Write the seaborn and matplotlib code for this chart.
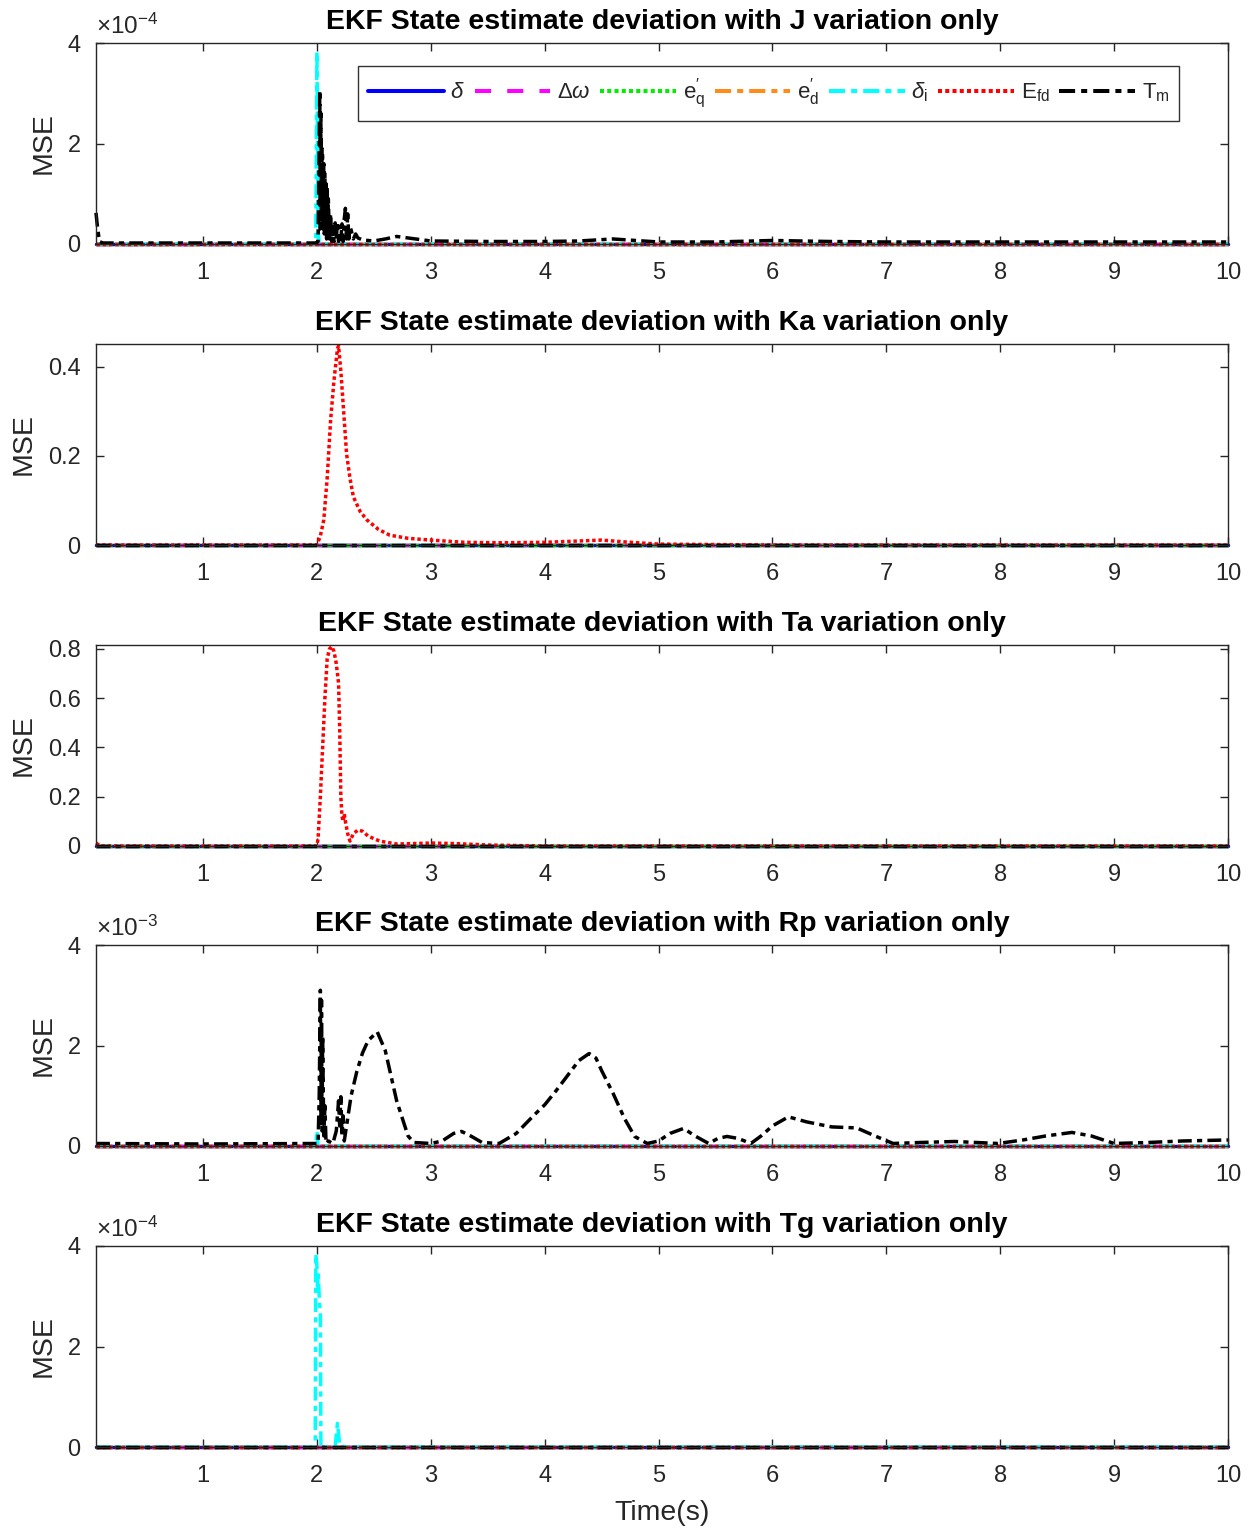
import numpy as np
import pandas as pd
import matplotlib
matplotlib.use("Agg")
import matplotlib.pyplot as plt
import seaborn as sns
from matplotlib.lines import Line2D

sns.set_style("ticks")
plt.rcParams['font.family'] = ['Liberation Sans', 'DejaVu Sans']
plt.rcParams['mathtext.fontset'] = 'custom'
plt.rcParams['mathtext.rm'] = 'Liberation Sans'
plt.rcParams['mathtext.it'] = 'Liberation Sans:italic'

# ---------------- data ----------------
T_START, T_END = 0.06, 10.0
x_ticks = [1, 2, 3, 4, 5, 6, 7, 8, 9, 10]

series_names = [r'$\delta$', r'$\Delta\omega$', r'$\mathrm{e}^{\prime}_{\mathrm{q}}$',
                r'$\mathrm{e}^{\prime}_{\mathrm{d}}$', r'$\delta_{\mathrm{i}}$',
                r'$\mathrm{E}_{\mathrm{fd}}$', r'$\mathrm{T}_{\mathrm{m}}$']
series_keys = ['delta', 'domega', 'eq', 'ed', 'deltai', 'efd', 'tm']

titles = ['EKF State estimate deviation with J variation only',
          'EKF State estimate deviation with Ka variation only',
          'EKF State estimate deviation with Ta variation only',
          'EKF State estimate deviation with Rp variation only',
          'EKF State estimate deviation with Tg variation only']

# Panel 1: J variation (values x1e-4)
deltai_J = [(0.06, 0), (1.99, 0), (2.0, 3.83), (2.01, 0.3), (2.02, 0), (10, 0)]
tm_J = [(0.06, 0.62), (0.07, 0.4), (0.09, 0.05), (0.12, 0.02), (1.99, 0.02),
        (2.01, 0.05), (2.025, 3.06), (2.03, 0.3), (2.035, 2.6), (2.04, 0.4),
        (2.045, 1.9), (2.05, 1.74), (2.055, 0.3), (2.06, 1.6), (2.065, 0.2),
        (2.07, 1.4), (2.075, 0.3), (2.08, 1.2), (2.085, 0.1), (2.09, 1.14),
        (2.095, 0.2), (2.10, 0.9), (2.11, 0.1), (2.12, 0.6), (2.13, 0.05),
        (2.14, 0.34), (2.15, 0.05), (2.16, 0.42), (2.17, 0.1), (2.18, 0.44),
        (2.19, 0.05), (2.20, 0.35), (2.21, 0.1), (2.22, 0.4), (2.23, 0.05),
        (2.24, 0.5), (2.25, 0.71), (2.26, 0.1), (2.27, 0.6), (2.28, 0.1),
        (2.29, 0.35), (2.30, 0.28), (2.32, 0.1), (2.34, 0.2), (2.36, 0.12),
        (2.40, 0.08), (2.50, 0.06), (2.60, 0.1), (2.70, 0.15), (2.80, 0.12),
        (3.0, 0.06), (3.5, 0.05), (4.0, 0.05), (4.3, 0.06), (4.6, 0.1),
        (4.8, 0.07), (5.0, 0.04), (5.5, 0.04), (6.0, 0.07), (6.5, 0.05),
        (7.0, 0.04), (8.0, 0.04), (9.0, 0.04), (10.0, 0.04)]

# Panel 2: Ka variation
efd_Ka = [(0.06, 0), (2.0, 0), (2.03, 0.02), (2.06, 0.056), (2.09, 0.15),
          (2.12, 0.28), (2.15, 0.37), (2.18, 0.44), (2.19, 0.447), (2.21, 0.39),
          (2.24, 0.28), (2.26, 0.205), (2.29, 0.15), (2.32, 0.108), (2.38, 0.075),
          (2.44, 0.056), (2.54, 0.035), (2.64, 0.022), (2.8, 0.015), (3.0, 0.011),
          (3.3, 0.006), (3.6, 0.005), (4.0, 0.006), (4.3, 0.009), (4.5, 0.011),
          (4.7, 0.007), (5.0, 0.002), (6.0, 0), (10, 0)]

# Panel 3: Ta variation
efd_Ta = [(0.06, 0.012), (0.1, 0), (2.0, 0), (2.01, 0.03), (2.03, 0.2),
          (2.05, 0.4), (2.07, 0.6), (2.09, 0.76), (2.11, 0.8), (2.13, 0.81),
          (2.15, 0.79), (2.17, 0.74), (2.19, 0.66), (2.2, 0.47), (2.21, 0.2),
          (2.22, 0.12), (2.23, 0.1), (2.24, 0.13), (2.25, 0.1), (2.27, 0.05),
          (2.29, 0.02), (2.32, 0.05), (2.36, 0.065), (2.4, 0.06), (2.45, 0.04),
          (2.55, 0.02), (2.7, 0.008), (3.0, 0.012), (3.2, 0.01), (3.5, 0.004),
          (4.0, 0.0), (10, 0)]

# Panel 4: Rp variation (values x1e-3)
deltai_Rp = [(0.06, 0), (1.99, 0), (2.0, 0.3), (2.01, 0), (10, 0)]
tm_Rp = [(0.06, 0.05), (1.0, 0.04), (1.99, 0.05), (2.01, 0.05), (2.02, 1.0),
         (2.03, 3.1), (2.035, 0.5), (2.04, 2.9), (2.045, 0.3), (2.05, 2.2),
         (2.06, 0.2), (2.07, 0.8), (2.08, 0.05), (2.1, 0.1), (2.14, 0.05),
         (2.17, 0.3), (2.19, 0.9), (2.2, 0.4), (2.21, 0.98), (2.22, 0.2),
         (2.23, 0.6), (2.24, 0.1), (2.26, 0.4), (2.3, 1.0), (2.35, 1.48),
         (2.4, 1.85), (2.45, 2.1), (2.53, 2.27), (2.6, 1.9), (2.7, 0.9),
         (2.8, 0.2), (2.85, 0.07), (3.0, 0.05), (3.1, 0.1), (3.2, 0.25),
         (3.27, 0.29), (3.35, 0.2), (3.45, 0.07), (3.6, 0.05), (3.75, 0.25),
         (3.9, 0.6), (4.0, 0.82), (4.1, 1.1), (4.2, 1.4), (4.3, 1.7),
         (4.39, 1.84), (4.45, 1.75), (4.5, 1.5), (4.6, 1.05), (4.7, 0.55),
         (4.79, 0.19), (4.9, 0.05), (5.0, 0.1), (5.1, 0.25), (5.22, 0.35),
         (5.32, 0.2), (5.44, 0.05), (5.52, 0.15), (5.6, 0.19), (5.7, 0.15),
         (5.81, 0.05), (5.9, 0.2), (6.0, 0.4), (6.14, 0.58), (6.3, 0.48),
         (6.52, 0.38), (6.74, 0.36), (6.9, 0.2), (7.06, 0.05), (7.3, 0.07),
         (7.6, 0.09), (7.98, 0.05), (8.2, 0.12), (8.4, 0.2), (8.63, 0.27),
         (8.8, 0.2), (9.0, 0.05), (9.3, 0.07), (9.6, 0.1), (10, 0.12)]

# Panel 5: Tg variation (values x1e-4)
deltai_Tg = [(0.06, 0), (1.985, 0), (1.99, 3.84), (2.0, 3.6), (2.005, 3.2),
             (2.01, 3.5), (2.02, 3.0), (2.03, 2.6), (2.035, 0), (2.16, 0),
             (2.18, 0.47), (2.2, 0.05), (2.25, 0), (10, 0)]

panel_ylims = [(0, 4), (0, 0.451), (0, 0.816), (0, 4), (0, 4)]
panel_yticks = [[0, 2, 4], [0, 0.2, 0.4], [0, 0.2, 0.4, 0.6, 0.8], [0, 2, 4], [0, 2, 4]]
panel_ytick_labels = [['0', '2', '4'], ['0', '0.2', '0.4'], ['0', '0.2', '0.4', '0.6', '0.8'],
                      ['0', '2', '4'], ['0', '2', '4']]
panel_offsets = [r'$\times10^{-4}$', None, None, r'$\times10^{-3}$', r'$\times10^{-4}$']
panel_data = [
    {'deltai': deltai_J, 'tm': tm_J},
    {'efd': efd_Ka},
    {'efd': efd_Ta},
    {'deltai': deltai_Rp, 'tm': tm_Rp},
    {'deltai': deltai_Tg},
]

# ---------------- styles ----------------
styles = {
    'delta':  dict(color='#0000ff', linestyle='-'),
    'domega': dict(color='#ff00ff', linestyle=(0, (4, 4))),
    'eq':     dict(color='#00ee00', linestyle=(0, (1, 0.8))),
    'ed':     dict(color='#ff8c1a', linestyle=(0, (4, 1.5, 1.5, 1.5))),
    'deltai': dict(color='#00ffff', linestyle=(0, (4, 1.5, 1.5, 1.5))),
    'efd':    dict(color='#ff0000', linestyle=(0, (1, 0.8))),
    'tm':     dict(color='#000000', linestyle=(0, (4, 1.5, 1.5, 1.5))),
}
axis_col = '#262626'
LW = 2.5

fig = plt.figure(figsize=(12.56, 15.28), dpi=100)
W = 1256.0
H = 1528.0
ax_left = 96 / W
ax_w = (1228 - 96) / W
ax_h = 201 / H
bottoms_px = [244, 545, 846, 1146, 1447]

axes = []
for i in range(5):
    ax = fig.add_axes([ax_left, 1 - bottoms_px[i] / H, ax_w, ax_h])
    axes.append(ax)
    for key in series_keys:
        pts = panel_data[i].get(key, [(T_START, 0.0), (T_END, 0.0)])
        df = pd.DataFrame(pts, columns=['t', 'v'])
        sns.lineplot(data=df, x='t', y='v', ax=ax, estimator=None, sort=False,
                     linewidth=LW, clip_on=False, **styles[key])
    ax.set_xlim(T_START, T_END)
    ax.set_ylim(*panel_ylims[i])
    ax.set_xticks(x_ticks)
    ax.set_xticklabels([str(v) for v in x_ticks])
    ax.set_yticks(panel_yticks[i])
    ax.set_yticklabels(panel_ytick_labels[i])
    ax.tick_params(direction='in', length=6, width=1, top=True, right=True,
                   labelsize=17, colors=axis_col)
    ax.tick_params(axis='x', pad=13)
    ax.tick_params(axis='y', pad=11)
    for sp in ax.spines.values():
        sp.set_color(axis_col)
        sp.set_linewidth(1.0)
    ax.set_xlabel('')
    ax.set_ylabel('MSE', fontsize=20.5, color=axis_col, labelpad=8)
    ax.set_title(titles[i], fontsize=20.5, fontweight='bold', color='black', pad=10)
    if panel_offsets[i]:
        ax.text(0.0, 1.02, panel_offsets[i], transform=ax.transAxes, ha='left',
                va='bottom', fontsize=17.5, color=axis_col)

axes[-1].set_xlabel('Time(s)', fontsize=20.5, color=axis_col, labelpad=9)

# legend in first panel
leg_handles = [Line2D([0], [0], linewidth=LW + 0.4, **styles[k]) for k in series_keys]
leg = axes[0].legend(leg_handles, series_names, ncol=7, loc='upper left',
                     bbox_to_anchor=(0.2314, 0.886), frameon=True, fancybox=False,
                     fontsize=16, handlelength=3.4, handletextpad=0.3,
                     columnspacing=0.45, borderpad=0.45, borderaxespad=0)
leg.get_frame().set_edgecolor('black')
leg.get_frame().set_linewidth(1.0)
for txt in leg.get_texts():
    txt.set_color(axis_col)

fig.savefig('out.png', dpi=100)
